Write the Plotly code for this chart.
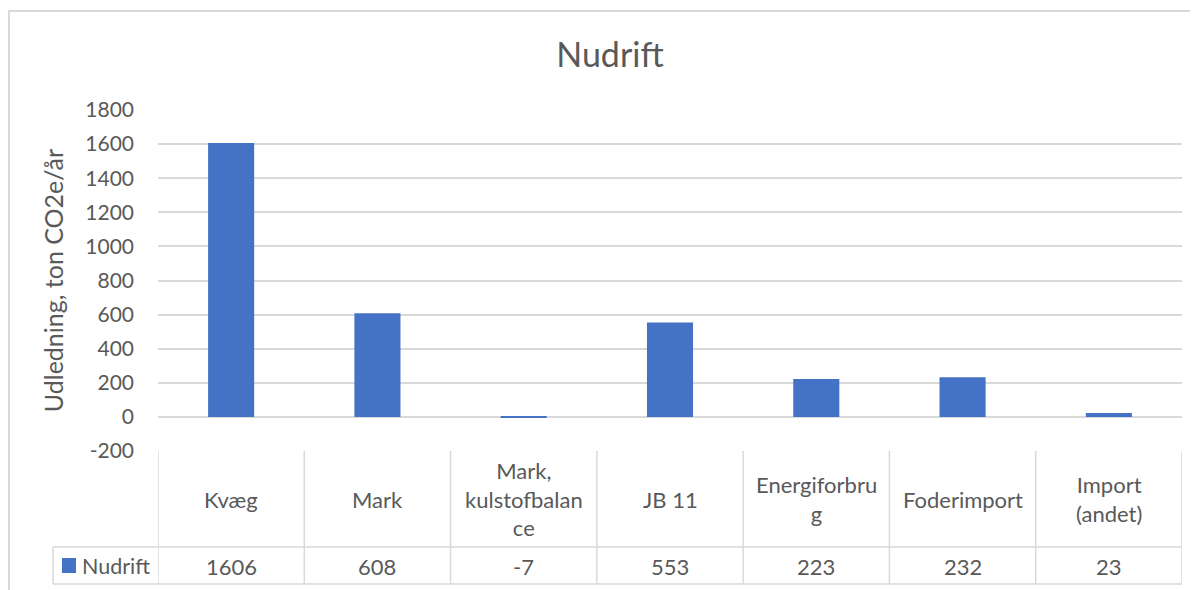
import plotly.graph_objects as go

categories = ["Kvæg", "Mark", "Mark, kulstofbalance", "JB 11", "Energiforbrug", "Foderimport", "Import (andet)"]
header_labels = ["Kvæg", "Mark", "Mark,<br>kulstofbalan<br>ce", "JB 11", "Energiforbru<br>g", "Foderimport", "Import<br>(andet)"]
values = [1606, 608, -7, 553, 223, 232, 23]
series_name = "Nudrift"
y_ticks = [-200, 0, 200, 400, 600, 800, 1000, 1200, 1400, 1600, 1800]

# page body has an 8px margin; work in screen pixels and offset
OFF = 8
W, H = 1198 - OFF, 590 - OFF
L, R, T, B = 158 - OFF, 1182 - OFF, 110 - OFF, 451 - OFF
PW, PH = R - L, B - T

def px_x(px):
    return (px - OFF - L) / PW

def px_y(py):
    return (B - (py - OFF)) / PH

FONT = "Lato"
TXT = "#595959"
GRID = "#d9d9d9"
BLUE = "#4472C4"

fig = go.Figure()
fig.add_trace(go.Bar(x=list(range(len(categories))), y=values, name=series_name,
                     marker=dict(color=BLUE, line=dict(width=0)), width=0.315,
                     hovertext=categories))

shapes = []
annotations = []
n = len(categories)
# outer chart border
shapes.append(dict(type="rect", xref="paper", yref="paper", x0=px_x(9), x1=px_x(1220),
                   y0=px_y(640), y1=px_y(11), line=dict(color=GRID, width=2), layer="below"))
# table lines
row1_bot = px_y(547)
row2_bot = px_y(584)
for i in range(n + 1):
    shapes.append(dict(type="line", xref="x", yref="paper", x0=i - 0.5, x1=i - 0.5,
                       y0=row2_bot, y1=0, line=dict(color=GRID, width=1.5)))
shapes.append(dict(type="line", xref="paper", yref="paper", x0=px_x(53), x1=1,
                   y0=row1_bot, y1=row1_bot, line=dict(color=GRID, width=1.5)))
shapes.append(dict(type="line", xref="paper", yref="paper", x0=px_x(53), x1=1,
                   y0=row2_bot, y1=row2_bot, line=dict(color=GRID, width=1.5)))
shapes.append(dict(type="line", xref="paper", yref="paper", x0=px_x(53), x1=px_x(53),
                   y0=row2_bot, y1=row1_bot, line=dict(color=GRID, width=1.5)))
# legend key
shapes.append(dict(type="rect", xref="paper", yref="paper", x0=px_x(62), x1=px_x(76),
                   y0=px_y(573), y1=px_y(558), fillcolor=BLUE, line=dict(width=0)))
annotations.append(dict(text=series_name, xref="paper", yref="paper", x=px_x(80), y=px_y(566),
                        xanchor="left", yanchor="middle", showarrow=False,
                        font=dict(family=FONT, size=21.5, color=TXT)))

for i, (lab, v) in enumerate(zip(header_labels, values)):
    annotations.append(dict(text=lab, xref="x", yref="paper", x=i, y=px_y(499),
                            xanchor="center", yanchor="middle", showarrow=False,
                            font=dict(family=FONT, size=22, color=TXT)))
    annotations.append(dict(text=str(v), xref="x", yref="paper", x=i, y=px_y(566),
                            xanchor="center", yanchor="middle", showarrow=False,
                            font=dict(family=FONT, size=22, color=TXT)))

fig.update_layout(
    width=W, height=H,
    margin=dict(l=L, r=W - R, t=T, b=H - B, pad=0),
    paper_bgcolor="white", plot_bgcolor="white",
    showlegend=False,
    title=dict(text="Nudrift", x=(610 - OFF) / W, xanchor="center",
               y=1 - (55 - OFF) / H, yanchor="middle",
               font=dict(family=FONT, size=34, color=TXT)),
    font=dict(family=FONT, color=TXT),
    xaxis=dict(range=[-0.5, n - 0.5], showticklabels=False, showgrid=False,
               zeroline=False, showline=False, ticks=""),
    yaxis=dict(range=[-200, 1800], tickvals=y_ticks, ticktext=[str(v) for v in y_ticks],
               showgrid=True, gridcolor=GRID,
               gridwidth=1.5, zeroline=True, zerolinecolor=GRID, zerolinewidth=1.5,
               showline=False, ticks="", ticklabelstandoff=23,
               tickfont=dict(family=FONT, size=21, color=TXT),
               title=dict(text="Udledning, ton CO2e/år", standoff=14,
                          font=dict(family=FONT, size=25, color=TXT))),
    shapes=shapes, annotations=annotations,
)

fig.write_html("out.html")
